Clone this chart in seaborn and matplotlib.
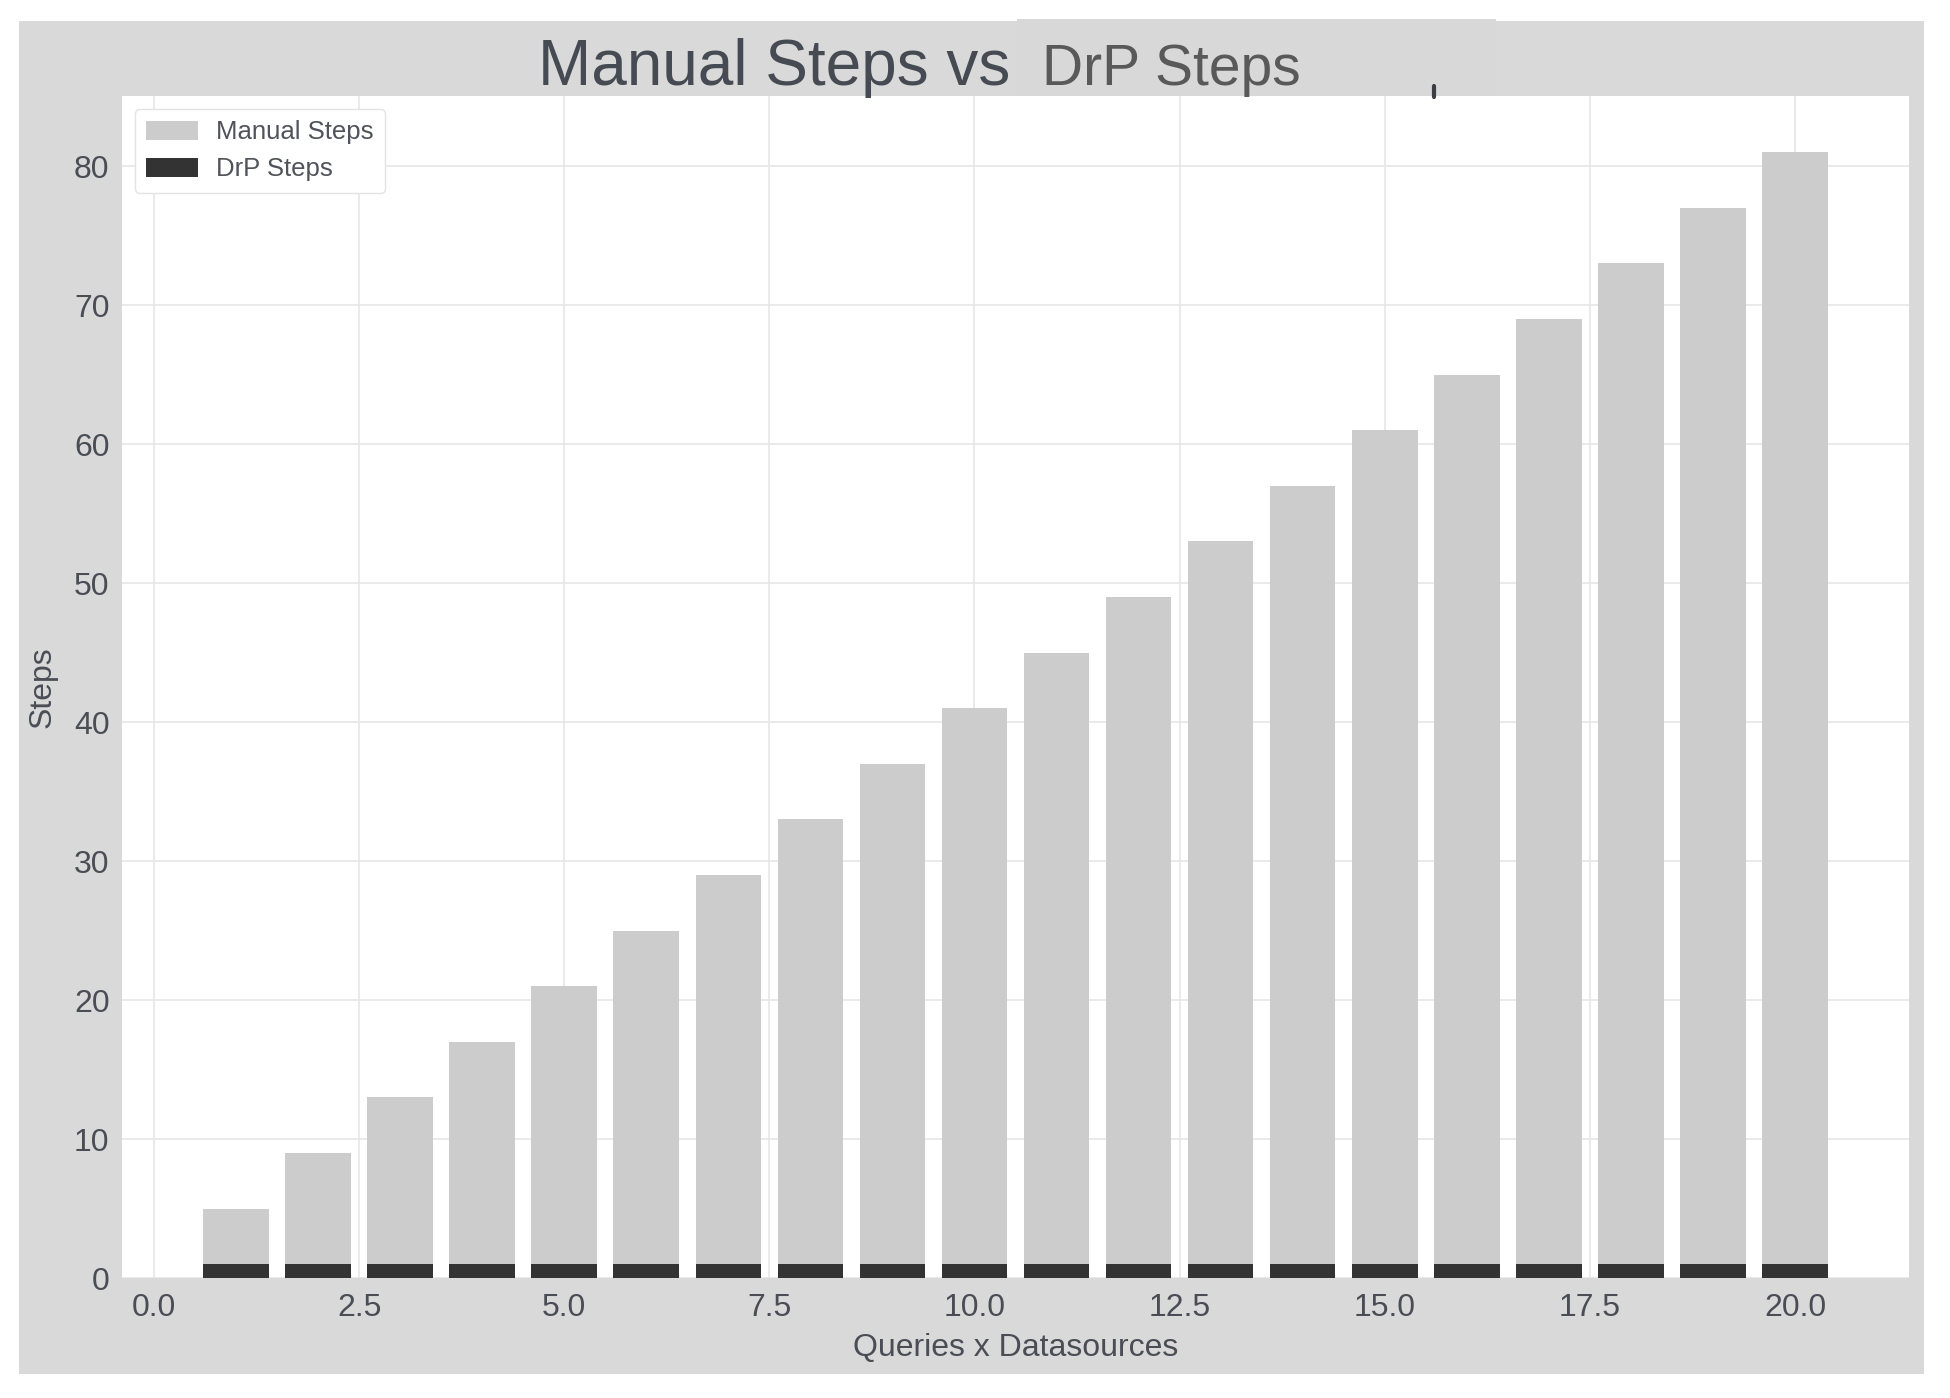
import matplotlib
matplotlib.use("Agg")
import matplotlib.pyplot as plt
from matplotlib.patches import Rectangle
from matplotlib.lines import Line2D
import seaborn as sns
import pandas as pd

queries = list(range(1, 21))
manual_steps = [5, 9, 13, 17, 21, 25, 29, 33, 37, 41, 45, 49, 53, 57, 61, 65, 69, 73, 77, 81]
drp_steps = [1] * 20

sns.set_theme(style="whitegrid")
plt.rcParams['font.family'] = ['Liberation Sans', 'DejaVu Sans']

TXT = "#4a4d55"
W, H = 1950, 1398
fig = plt.figure(figsize=(W / 100, H / 100), dpi=100, facecolor="white")

# gray figure panel
fig.add_artist(Rectangle((19 / W, 1 - 1374 / H), (1924 - 19) / W, (1374 - 21) / H,
                         transform=fig.transFigure, facecolor="#d9d9d9", edgecolor="none", zorder=-5))
fig.add_artist(Rectangle((1017 / W, 1 - 96 / H), (1496 - 1017) / W, (96 - 19) / H,
                         transform=fig.transFigure, facecolor="#d8d8d8", edgecolor="none", zorder=-4))

ax = fig.add_axes([122 / W, 1 - 1278 / H, (1909 - 122) / W, (1278 - 96) / H])
ax.set_zorder(1)
ax.set_facecolor("white")

df = pd.DataFrame({"q": queries, "manual": manual_steps, "drp": drp_steps})
sns.barplot(data=df, x="q", y="manual", native_scale=True, color="#cccccc",
            saturation=1, linewidth=0, label="Manual Steps", ax=ax, zorder=2)
sns.barplot(data=df, x="q", y="drp", native_scale=True, color="#333333",
            saturation=1, linewidth=0, label="DrP Steps", ax=ax, zorder=3)

ax.set_xlim(-0.39, 21.39)
ax.set_ylim(0, 85.05)
ax.set_xticks([0, 2.5, 5, 7.5, 10, 12.5, 15, 17.5, 20])
ax.set_xticklabels(["0.0", "2.5", "5.0", "7.5", "10.0", "12.5", "15.0", "17.5", "20.0"])
ax.set_yticks([0, 10, 20, 30, 40, 50, 60, 70, 80])
ax.grid(True, color="#e6e6e6", linewidth=1.2, zorder=0)
ax.set_axisbelow(True)
for s in ax.spines.values():
    s.set_visible(False)
ax.tick_params(axis="both", length=0, labelsize=23, labelcolor=TXT)
ax.tick_params(axis="x", pad=11)
ax.tick_params(axis="y", pad=9)
ax.set_xlabel("Queries x Datasources", fontsize=23, color=TXT, labelpad=7)
ax.set_ylabel("Steps", fontsize=23, color=TXT, labelpad=12)

leg = ax.legend(loc="upper left", fontsize=18.5, frameon=True, fancybox=True,
                handlelength=2.0, handleheight=0.75, borderpad=0.45, labelspacing=0.5,
                handletextpad=0.7, bbox_to_anchor=(0.0, 1.0), borderaxespad=0.5)
leg.get_frame().set_edgecolor("#e3e3e3")
leg.get_frame().set_facecolor("white")
leg.get_frame().set_alpha(1)
for t in leg.get_texts():
    t.set_color("#50535a")

fig.text(538 / W, 1 - 85 / H, "Manual Steps vs", fontsize=46, color="#464a52",
         ha="left", va="baseline")
fig.text(1042 / W, 1 - 85 / H, "DrP Steps", fontsize=41, color="#595959",
         ha="left", va="baseline")
fig.add_artist(Line2D([1434 / W, 1434 / W], [1 - 86 / H, 1 - 97 / H],
                      transform=fig.transFigure, color="#3a3d44", linewidth=3))

fig.savefig("out.png", dpi=100, facecolor="white")
